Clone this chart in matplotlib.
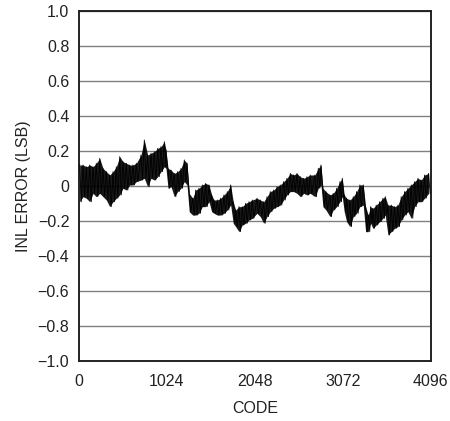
import numpy as np
import matplotlib
matplotlib.use("Agg")
import matplotlib.pyplot as plt

plt.rcParams['font.family'] = ['Liberation Sans Narrow', 'Liberation Sans', 'DejaVu Sans']

# envelope of the INL trace (code, upper, lower)
codes = [8, 47, 85, 125, 163, 201, 241, 279, 318, 357, 396, 434, 474, 512, 550, 590,
         628, 667, 721, 760, 799, 838, 876, 916, 954, 993, 1012, 1036, 1071, 1109, 1148,
         1187, 1225, 1257, 1283, 1323, 1358, 1396, 1435, 1474, 1513, 1544, 1571, 1609,
         1649, 1687, 1726, 1765, 1795, 1823, 1862, 1900, 1940, 1978, 2017, 2071, 2110,
         2149, 2188, 2226, 2266, 2304, 2342, 2382, 2420, 2459, 2498, 2537, 2575, 2615,
         2653, 2691, 2746, 2785, 2816, 2839, 2874, 2921, 2959, 2999, 3037, 3064, 3087,
         3115, 3153, 3192, 3231, 3269, 3308, 3336, 3366, 3394, 3421, 3459, 3499, 3537,
         3564, 3596, 3634, 3673, 3712, 3750, 3790, 3828, 3867, 3906, 3945, 3983, 4023, 4069]
inl_hi = [0.120, 0.120, 0.110, 0.120, 0.110, 0.130, 0.158, 0.101, 0.082, 0.063, 0.082,
          0.110, 0.168, 0.139, 0.130, 0.120, 0.120, 0.130, 0.177, 0.263, 0.177, 0.187,
          0.196, 0.215, 0.225, 0.253, 0.206, 0.101, 0.091, 0.072, 0.082, 0.101, 0.149,
          0.130, -0.042, -0.070, -0.023, -0.013, 0.006, 0.015, 0.006, -0.051, -0.080,
          -0.080, -0.070, -0.051, -0.032, 0.006, -0.090, -0.137, -0.118, -0.118, -0.099,
          -0.090, -0.080, -0.070, -0.080, -0.090, -0.061, -0.032, -0.023, -0.004, 0.006,
          0.025, 0.044, 0.072, 0.063, 0.072, 0.053, 0.044, 0.053, 0.063, 0.063, 0.101,
          0.120, -0.013, -0.032, -0.051, -0.042, -0.013, 0.025, 0.044, -0.051, -0.070,
          -0.080, -0.061, -0.032, 0.006, 0.006, -0.118, -0.166, -0.118, -0.128, -0.109,
          -0.090, -0.070, -0.061, -0.109, -0.109, -0.118, -0.109, -0.061, -0.032, -0.013,
          0.006, 0.025, 0.044, 0.034, 0.063, 0.072]
inl_lo = [-0.090, -0.061, -0.070, -0.090, -0.042, -0.061, -0.042, -0.061, -0.080, -0.118,
          -0.090, -0.070, -0.051, -0.013, -0.023, 0.006, 0.006, 0.025, 0.034, 0.044,
          -0.004, 0.044, 0.034, 0.053, 0.082, 0.110, 0.101, -0.013, -0.004, -0.061,
          -0.032, -0.013, 0.025, 0.006, -0.147, -0.166, -0.166, -0.156, -0.118, -0.118,
          -0.090, -0.147, -0.156, -0.166, -0.166, -0.156, -0.137, -0.109, -0.213, -0.232,
          -0.261, -0.223, -0.213, -0.194, -0.185, -0.156, -0.175, -0.213, -0.175, -0.147,
          -0.128, -0.118, -0.109, -0.080, -0.051, -0.032, -0.032, -0.042, -0.061, -0.042,
          -0.051, -0.042, -0.061, -0.013, 0.006, -0.118, -0.137, -0.175, -0.137, -0.118,
          -0.090, -0.061, -0.147, -0.204, -0.232, -0.175, -0.156, -0.118, -0.109, -0.261,
          -0.261, -0.213, -0.242, -0.223, -0.204, -0.185, -0.166, -0.280, -0.261, -0.242,
          -0.232, -0.194, -0.166, -0.147, -0.185, -0.118, -0.090, -0.090, -0.070, -0.042]

y_ticks = [-1.0, -0.8, -0.6, -0.4, -0.2, 0, 0.2, 0.4, 0.6, 0.8, 1.0]
y_labels = ['\u22121.0', '\u22120.8', '\u22120.6', '\u22120.4', '\u22120.2', '0',
            '0.2', '0.4', '0.6', '0.8', '1.0']
x_ticks = [0, 1024, 2048, 3072, 4096]

fig = plt.figure(figsize=(4.5, 4.21), dpi=100)
ax = fig.add_axes([0.1756, 0.1425, 0.782, 0.8314])

c = np.array(codes, dtype=float)
hi = np.array(inl_hi)
lo = np.array(inl_lo)

# solid body plus a zig-zag trace to give the noisy look
ax.fill_between(c, lo, hi, color='black', alpha=0.9, lw=0, zorder=3)
zx = np.empty(2 * len(c))
zy = np.empty(2 * len(c))
zx[0::2] = c
zx[1::2] = c + 18
zy[0::2] = hi
zy[1::2] = lo
ax.plot(zx, zy, color='black', lw=0.6, zorder=4)

ax.set_xlim(0, 4096)
ax.set_ylim(-1.0, 1.0)
ax.set_yticks(y_ticks)
ax.set_yticklabels(y_labels)
ax.set_xticks(x_ticks)
ax.tick_params(length=0, labelsize=11.5, colors='#222222')
ax.tick_params(axis='y', pad=7)
ax.tick_params(axis='x', pad=9)
ax.yaxis.grid(True, color='#808080', lw=1)
ax.set_axisbelow(True)
for s in ax.spines.values():
    s.set_linewidth(1.4)
    s.set_color('#222222')

ax.set_xlabel('CODE', fontsize=11.5, color='#222222', labelpad=9)
ax.set_ylabel('INL ERROR (LSB)', fontsize=11.5, color='#222222', labelpad=5)

fig.savefig('out.png', dpi=100)
